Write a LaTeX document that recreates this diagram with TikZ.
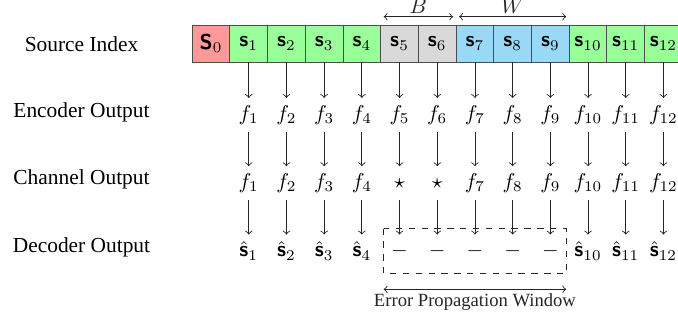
\documentclass[tikz,border=0pt]{standalone}
\usepackage[no-math]{fontspec}
\setmainfont{Liberation Serif}
\definecolor{cRed}{RGB}{255,153,153}
\definecolor{cGreen}{RGB}{153,255,153}
\definecolor{cGray}{RGB}{217,217,217}
\definecolor{cBlue}{RGB}{153,217,246}
\newcommand{\sbf}[1]{\mbox{\sffamily\bfseries #1}}
\tikzset{
  cell/.style={draw=black!70, minimum width=17.62pt, minimum height=17.3pt, inner sep=0pt, outer sep=0pt},
  val/.style={text height=6.94pt, text depth=1.94pt, inner sep=3.33pt},
  lab/.style={anchor=base},
  arr/.style={->, black!85},
  dbl/.style={<->, black!85}
}
\begin{document}
\begin{tikzpicture}[x=0.4673pt, y=-0.4673pt]
\useasboundingbox (0,0) rectangle (678,322);
% row labels
\node[lab] (lsrc) at (81.5,51.7) {Source Index};
\node[lab] (lenc) at (81.5,117.5) {Encoder Output};
\node[lab] (lch)  at (81.5,184.5) {Channel Output};
\node[lab] (ldec) at (81.5,252.5) {Decoder Output};
% source cells
\node[cell, fill=cRed] (c0) at ({192.2+37.7*0.5},43.5) {$\sbf{S}_0$};
\foreach \k/\col in {1/cGreen,2/cGreen,3/cGreen,4/cGreen,5/cGray,6/cGray,7/cBlue,8/cBlue,9/cBlue,10/cGreen,11/cGreen,12/cGreen}{
  \node[cell, fill=\col] (c\k) at ({192.2+37.7*(\k+0.5)},43.5) {$\sbf{s}_{\k}$};
}
% encoder output
\foreach \k in {1,...,12}{
  \node[val] (e\k) at ({192.2+37.7*(\k+0.5)},115) {$f_{\k}$};
}
% channel output
\foreach \k in {1,2,3,4,7,8,9,10,11,12}{
  \node[val] (h\k) at ({192.2+37.7*(\k+0.5)},183.3) {$f_{\k}$};
}
\foreach \k in {5,6}{
  \node[val] (h\k) at ({192.2+37.7*(\k+0.5)},183.3) {$\star$};
}
% decoder output
\foreach \k in {1,2,3,4,10,11,12}{
  \node[val] (d\k) at ({192.2+37.7*(\k+0.5)},251.6) {$\hat{\sbf{s}}_{\k}$};
}
\foreach \k in {5,...,9}{
  \node[val] (d\k) at ({192.2+37.7*(\k+0.5)},251.6) {$-$};
}
% arrows
\foreach \k in {1,...,12}{
  \draw[arr] (c\k) -- (e\k);
  \draw[arr] (e\k) -- (h\k);
  \draw[arr] (h\k) -- (d\k);
}
% error window box
\draw[dashed, black!85] ([yshift=2.8pt]d5.north west) rectangle ([yshift=-2.3pt]d9.south east);
% B and W arrows
\coordinate (yBW) at (0,16.7);
\coordinate (yErr) at (0,289.3);
\draw[dbl] (d5.west |- yBW) -- node[above=1.2pt, inner sep=0pt] (lB) {$B$} (d6.east |- yBW);
\draw[dbl] (d7.west |- yBW) -- node[above=1.2pt, inner sep=0pt] (lW) {$W$} (d9.east |- yBW);
\draw[dbl] (d5.west |- yErr) -- node[below=2pt, inner sep=0pt, font=\fontsize{8.7}{10}\selectfont] (lErr) {Error Propagation Window} (d9.east |- yErr);
\end{tikzpicture}
\end{document}
